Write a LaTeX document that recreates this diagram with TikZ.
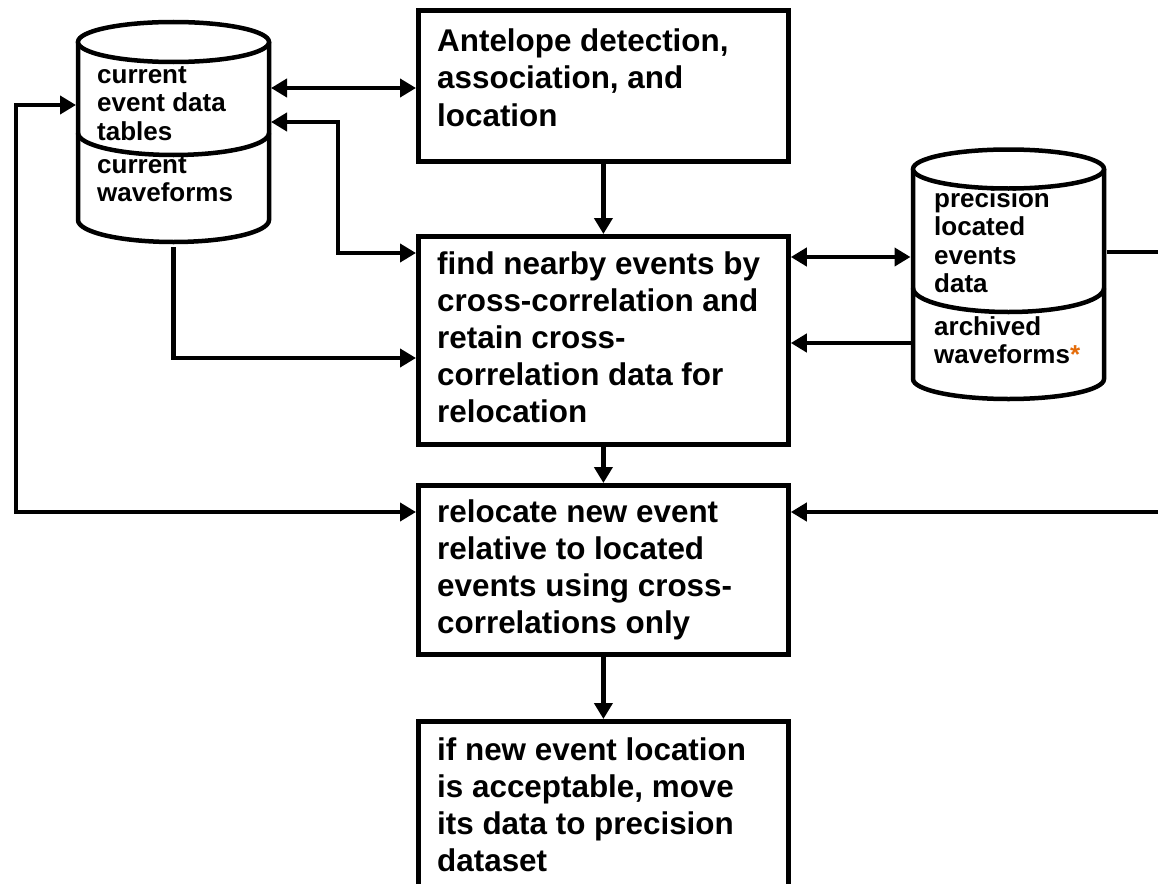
\documentclass[tikz,border=0pt]{standalone}
\usepackage{fontspec}
\setmainfont{Liberation Sans}
\usetikzlibrary{arrows.meta}
\definecolor{astc}{RGB}{228,108,10}
\begin{document}
\begin{tikzpicture}[x=1pt,y=-1pt,
  box/.style={draw, line width=4.8pt, fill=white, inner sep=0pt, anchor=north west, minimum width=370pt},
  btxt/.style={anchor=base west, inner sep=0pt, font=\bfseries\fontsize{31.4}{37}\selectfont},
  ctxt/.style={anchor=base west, inner sep=0pt, font=\bfseries\fontsize{26}{28.5}\selectfont},
  arr/.style={line width=4.5pt, -{Triangle[length=16pt,width=18pt]}},
  dbl/.style={line width=4.5pt, {Triangle[length=16pt,width=18pt]}-{Triangle[length=16pt,width=18pt]}},
  cylline/.style={line width=4.5pt},
  ghost/.style={inner sep=0pt, outer sep=0pt}
]
\useasboundingbox (0,0) rectangle (1158,883);
\fill[white] (0,0) rectangle (1158,883);

% boxes
\node[box, minimum height=151pt] (ant) at (416,8) {};
\node[box, minimum height=208pt] (find) at (416,234) {};
\node[box, minimum height=169pt] (rel) at (416,483) {};
\node[box, minimum height=168pt] (ifb) at (416,719) {};

\node[btxt] (antT) at (437,52) {\parbox[t]{345pt}{\raggedright Antelope detection,\\association, and\\location}};
\node[btxt] (findT) at (437,274) {\parbox[t]{345pt}{\raggedright find nearby events by\\cross-correlation and\\retain cross-\\correlation data for\\relocation}};
\node[btxt] (relT) at (437,522) {\parbox[t]{345pt}{\raggedright relocate new event\\relative to located\\events using cross-\\correlations only}};
\node[btxt] (ifbT) at (437,760) {\parbox[t]{345pt}{\raggedright if new event location\\is acceptable, move\\its data to precision\\dataset}};

% cylinder 1
\fill[white] (78,42) -- (78,220) arc[start angle=180,end angle=0,x radius=95.5,y radius=22] -- (269,42) -- cycle;
\draw[cylline] (78,42) -- (78,220) arc[start angle=180,end angle=0,x radius=95.5,y radius=22] -- (269,42);
\draw[cylline, fill=white] (173.5,42) ellipse[x radius=95.5,y radius=20];
\draw[cylline] (78,133) arc[start angle=180,end angle=0,x radius=95.5,y radius=22];
\node[ghost, minimum width=195pt, minimum height=220pt] (cyl1) at (173.5,132) {};
\node[ctxt] (cyl1a) at (97,83) {\parbox[t]{170pt}{\raggedright current\\event data\\tables}};
\node[ctxt] (cyl1b) at (97,173) {\parbox[t]{170pt}{\raggedright current\\waveforms}};

% cylinder 2
\fill[white] (913,169) -- (913,379) arc[start angle=180,end angle=0,x radius=95.5,y radius=20] -- (1104,169) -- cycle;
\draw[cylline] (913,169) -- (913,379) arc[start angle=180,end angle=0,x radius=95.5,y radius=20] -- (1104,169);
\draw[cylline, fill=white] (1008.5,169) ellipse[x radius=95.5,y radius=19.5];
\draw[cylline] (913,288) arc[start angle=180,end angle=0,x radius=95.5,y radius=24];
\node[ghost, minimum width=196pt, minimum height=250pt] (cyl2) at (1008.5,274) {};
\node[ctxt] (cyl2a) at (934,207) {\parbox[t]{170pt}{\raggedright precision\\located\\events\\data}};
\node[ctxt] (cyl2b) at (934,335) {\parbox[t]{170pt}{\raggedright archived\\waveforms\textcolor{astc}{*}}};

% connectors
\draw[dbl] (cyl1.east |- 0,88) -- (ant.west |- 0,88);
\draw[dbl] (cyl1.east |- 0,122) -- (338,122) -- (338,253) -- (find.west |- 0,253);
\draw[arr] ([yshift=-5pt]cyl1.south) |- (find.west |- 0,358);
\draw[dbl] (cyl1.west |- 0,105) -- (16,105) -- (16,512) -- (rel.west |- 0,512);
\draw[arr] (ant.south) -- (find.north);
\draw[arr] (find.south) -- (rel.north);
\draw[arr] (rel.south) -- (ifb.north);
\draw[dbl] (find.east |- 0,257) -- (cyl2.west |- 0,257);
\draw[arr] (cyl2.west |- 0,343) -- (find.east |- 0,343);
\draw[arr] (cyl2.east |- 0,252) -- (1163,252) -- (1163,512) -- (rel.east |- 0,512);
\end{tikzpicture}
\end{document}
